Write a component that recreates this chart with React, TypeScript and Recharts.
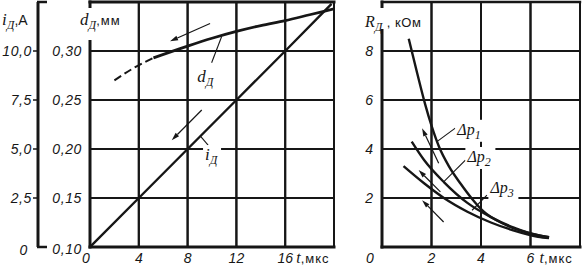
import { ComposedChart, Line, XAxis, YAxis, ReferenceLine, ReferenceDot, CartesianGrid } from 'recharts';

const INK = '#161616';
const SANS = '"Liberation Sans", Arial, sans-serif';
const SERIF = '"Liberation Serif", "Times New Roman", serif';

// left panel: current i_Д (A) and spark diameter d_Д (mm) against t (µs)
const LEFT_T_TICKS = [0, 4, 8, 12, 16, 20];
const I_TICKS = [0, 2.5, 5, 7.5, 10, 12.5];
const D_TICKS = [0.1, 0.15, 0.2, 0.25, 0.3, 0.35];

const I_T = [0, 4, 8, 12, 16, 19.8];
const I_VALUES = [0, 2.5, 5, 7.5, 10, 12.4];

const D_DASH_T = [2.0, 3.5, 5.2];
const D_DASH_VALUES = [0.27, 0.282, 0.293];
const D_T = [5.2, 8, 10, 12, 14, 16, 18, 20];
const D_VALUES = [0.293, 0.305, 0.313, 0.32, 0.326, 0.331, 0.337, 0.343];

// right panel: resistance R_Д (kOhm) against t (µs) for three pressure drops
const RIGHT_T_TICKS = [0, 2, 4, 6, 8];
const R_TICKS = [0, 2, 4, 6, 8, 10];

const P1_T = [1.08, 1.42, 1.75, 2.0, 2.3, 2.7, 3.2, 3.65, 4.1, 5.0, 6.0, 6.75];
const P1_R = [8.5, 7.1, 5.8, 4.95, 4.1, 3.3, 2.55, 1.95, 1.45, 0.9, 0.55, 0.4];
const P2_T = [1.2, 1.7, 2.5, 3.45, 4.4, 5.3, 6.3, 6.75];
const P2_R = [4.3, 3.55, 2.65, 1.8, 1.22, 0.8, 0.48, 0.4];
const P3_T = [0.87, 1.7, 2.5, 3.45, 4.4, 5.3, 6.3, 6.75];
const P3_R = [3.3, 2.6, 2.0, 1.44, 1.0, 0.68, 0.42, 0.36];

// panel geometry
const CHART_H = 271;
const TOP = 2;
const X_AXIS_H = 24;
const PLOT_H = CHART_H - TOP - X_AXIS_H;
const LEFT_W = 340;
const LEFT_AXES_W = 90;
const LEFT_RIGHT_PAD = 6;
const LEFT_PLOT_W = LEFT_W - LEFT_AXES_W - LEFT_RIGHT_PAD;
const RIGHT_X = 340;
const RIGHT_W = 244;
const RIGHT_AXES_W = 42;
const RIGHT_RIGHT_PAD = 4;
const RIGHT_PLOT_W = RIGHT_W - RIGHT_AXES_W - RIGHT_RIGHT_PAD;

const pts = (ts: number[], vs: number[]) => ts.map((t, k) => ({ t, v: vs[k] }));
const comma = (v: number, digits: number) => v.toFixed(digits).replace('.', ',');

function Arrow(p: any) {
  const { x1, y1, x2, y2 } = p;
  const a = Math.atan2(y2 - y1, x2 - x1);
  const len = 8;
  const half = 2.4;
  const bx = x2 - len * Math.cos(a);
  const by = y2 - len * Math.sin(a);
  const nx = -Math.sin(a) * half;
  const ny = Math.cos(a) * half;
  return (
    <g>
      <line x1={x1} y1={y1} x2={bx} y2={by} stroke={INK} strokeWidth={1.2} />
      <polygon points={`${x2},${y2} ${bx + nx},${by + ny} ${bx - nx},${by - ny}`} fill={INK} />
    </g>
  );
}

function Leader(p: any) {
  return <line x1={p.x1} y1={p.y1} x2={p.x2} y2={p.y2} stroke={INK} strokeWidth={1.1} />;
}

const tag = (main: string, sub: string, w: number, size = 17) => (p: any) => (
  <g>
    <rect x={p.cx - 2} y={p.cy - 15} width={w} height={22} fill="#fff" />
    <text x={p.cx} y={p.cy} fontFamily={SERIF} fontStyle="italic" fontSize={size} fill={INK}>
      {main}
      <tspan fontSize={12} dy={4}>{sub}</tspan>
    </text>
  </g>
);

const timeTick = (unitAt: number, zeroShift: number, unitGap: number) => (p: any) => {
  const v = p.payload.value;
  if (v > unitAt) return <g />;
  const y = p.y + 16;
  return (
    <g>
      <text x={p.x + (v === 0 ? zeroShift : 0)} y={y} textAnchor="middle" fontFamily={SANS} fontStyle="italic" fontSize={14} fill={INK}>
        {v}
      </text>
      {v === unitAt && (
        <text x={p.x + unitGap} y={y} fontFamily={SERIF} fontStyle="italic" fontSize={16} fill={INK}>
          t
          <tspan fontFamily={SANS} fontStyle="normal" fontSize={13} letterSpacing={1}>,мкс</tspan>
        </text>
      )}
    </g>
  );
};

function CurrentTick(p: any) {
  const v = p.payload.value;
  if (v > 12) return <g />;
  return (
    <text x={p.x - (v === 0 ? 10 : 6)} y={p.y + (v === 0 ? 3 : 0)} textAnchor="end" dominantBaseline="central" fontFamily={SANS} fontStyle="italic" fontSize={14} letterSpacing={0.6} fill={INK}>
      {v === 0 ? '0' : comma(v, 1)}
    </text>
  );
}

function DiameterTick(p: any) {
  const v = p.payload.value;
  if (v > 0.321) return <g />;
  return (
    <text x={p.x - 8} y={p.y + (v < 0.11 ? 2 : 0)} textAnchor="end" dominantBaseline="central" fontFamily={SANS} fontStyle="italic" fontSize={14} letterSpacing={0.6} fill={INK}>
      {comma(v, 2)}
    </text>
  );
}

function ResistanceTick(p: any) {
  const v = p.payload.value;
  if (v === 0 || v > 8) return <g />;
  return (
    <text x={p.x - 9} y={p.y} textAnchor="end" dominantBaseline="central" fontFamily={SANS} fontStyle="italic" fontSize={14} fill={INK}>
      {v}
    </text>
  );
}

// ruled paper behind both panels: grid rules at the tick values, heavier frame sides
function GridBackdrop() {
  const lines: any[] = [];
  const panel = (x0: number, w: number, xTicks: number[], yTicks: number[], heavyTop: number, iAxisX: number | null) => {
    const xMax = xTicks[xTicks.length - 1];
    const yMin = yTicks[0];
    const yMax = yTicks[yTicks.length - 1];
    const px = (t: number) => x0 + (t / xMax) * w;
    const py = (v: number) => TOP + (1 - (v - yMin) / (yMax - yMin)) * PLOT_H;
    xTicks.forEach((t, k) => {
      lines.push(<line key={`v${x0}-${k}`} x1={px(t)} x2={px(t)} y1={py(yMin)} y2={py(yMax)} stroke={INK} strokeWidth={k === 0 ? 3 : 2} strokeLinecap="square" />);
    });
    yTicks.forEach((v, k) => {
      const wgt = k === 0 ? 3 : k === yTicks.length - 1 ? heavyTop : 2;
      lines.push(<line key={`h${x0}-${k}`} x1={px(0)} x2={px(xMax)} y1={py(v)} y2={py(v)} stroke={INK} strokeWidth={wgt} strokeLinecap="square" />);
    });
    if (iAxisX !== null) {
      // outer current scale: ticks to the left, feet at both ends
      yTicks.forEach((v, k) => {
        const y = py(v);
        if (k === 0 || k === yTicks.length - 1) {
          lines.push(<line key={`f${k}`} x1={iAxisX - 1} x2={iAxisX + 9} y1={y} y2={y} stroke={INK} strokeWidth={2.5} />);
        } else {
          lines.push(<line key={`t${k}`} x1={iAxisX - 5} x2={iAxisX} y1={y} y2={y} stroke={INK} strokeWidth={1.5} />);
        }
      });
    }
  };
  panel(LEFT_AXES_W, LEFT_PLOT_W, LEFT_T_TICKS, I_TICKS, 3, LEFT_AXES_W - 52);
  panel(RIGHT_X + RIGHT_AXES_W, RIGHT_PLOT_W, RIGHT_T_TICKS, R_TICKS, 2.4, null);
  return (
    <svg width={584} height={271} style={{ position: 'absolute', left: 0, top: 0 }}>
      {lines}
    </svg>
  );
}

function LeftPanel() {
  return (
    <ComposedChart width={LEFT_W} height={CHART_H} margin={{ top: TOP, right: LEFT_RIGHT_PAD, bottom: 0, left: 0 }}>
      <CartesianGrid stroke={INK} strokeWidth={2} />
      <XAxis dataKey="t" type="number" domain={[0, 20]} ticks={LEFT_T_TICKS} interval={0} allowDataOverflow
        axisLine={false} tickLine={false} tickSize={0} tickMargin={0} height={X_AXIS_H} tick={timeTick(16, -4, 11)} />
      <YAxis type="number" domain={[0.1, 0.35]} ticks={D_TICKS} interval={0} allowDataOverflow width={52}
        axisLine={false} tickLine={false} tickSize={0} tickMargin={0} tick={DiameterTick} />
      <YAxis yAxisId="i" type="number" domain={[0, 12.5]} ticks={I_TICKS} interval={0} allowDataOverflow width={38}
        axisLine={{ stroke: INK, strokeWidth: 3 }} tickLine={false} tickSize={0} tickMargin={0} tick={CurrentTick} />
      <Line data={pts(I_T, I_VALUES)} dataKey="v" yAxisId="i" type="linear" dot={false} stroke={INK} strokeWidth={2.4} isAnimationActive={false} />
      <Line data={pts(D_DASH_T, D_DASH_VALUES)} dataKey="v" type="monotone" dot={false} stroke={INK} strokeWidth={2} strokeDasharray="8 4" isAnimationActive={false} />
      <Line data={pts(D_T, D_VALUES)} dataKey="v" type="monotone" dot={false} stroke={INK} strokeWidth={2.8} isAnimationActive={false} />
      <ReferenceLine segment={[{ x: 9.84, y: 0.328 }, { x: 6.56, y: 0.31 }]} shape={Arrow} />
      <ReferenceLine segment={[{ x: 10.8, y: 0.315 }, { x: 9.97, y: 0.288 }]} shape={Leader} />
      <ReferenceLine yAxisId="i" segment={[{ x: 9.16, y: 6.99 }, { x: 6.7, y: 5.45 }]} shape={Arrow} />
      <ReferenceLine yAxisId="i" segment={[{ x: 9.05, y: 5.66 }, { x: 9.68, y: 5.2 }]} shape={Leader} />
      <ReferenceDot x={8.8} y={0.268} shape={tag('d', 'Д', 22)} />
      <ReferenceDot yAxisId="i" x={9.43} y={4.43} shape={tag('i', 'Д', 18)} />
    </ComposedChart>
  );
}

function RightPanel() {
  return (
    <ComposedChart width={RIGHT_W} height={CHART_H} margin={{ top: TOP, right: RIGHT_RIGHT_PAD, bottom: 0, left: 0 }}>
      <CartesianGrid stroke={INK} strokeWidth={2} />
      <XAxis dataKey="t" type="number" domain={[0, 8]} ticks={RIGHT_T_TICKS} interval={0} allowDataOverflow
        axisLine={false} tickLine={false} tickSize={0} tickMargin={0} height={X_AXIS_H} tick={timeTick(6, -12, 9)} />
      <YAxis type="number" domain={[0, 10]} ticks={R_TICKS} interval={0} allowDataOverflow width={RIGHT_AXES_W}
        axisLine={false} tickLine={false} tickSize={0} tickMargin={0} tick={ResistanceTick} />
      <Line data={pts(P1_T, P1_R)} dataKey="v" type="monotone" dot={false} stroke={INK} strokeWidth={2.4} isAnimationActive={false} />
      <Line data={pts(P2_T, P2_R)} dataKey="v" type="monotone" dot={false} stroke={INK} strokeWidth={2.4} isAnimationActive={false} />
      <Line data={pts(P3_T, P3_R)} dataKey="v" type="monotone" dot={false} stroke={INK} strokeWidth={2.4} isAnimationActive={false} />
      <ReferenceLine segment={[{ x: 2.29, y: 3.42 }, { x: 1.62, y: 4.85 }]} shape={Arrow} />
      <ReferenceLine segment={[{ x: 2.36, y: 2.25 }, { x: 1.48, y: 3.14 }]} shape={Arrow} />
      <ReferenceLine segment={[{ x: 2.49, y: 1.02 }, { x: 1.62, y: 1.91 }]} shape={Arrow} />
      <ReferenceLine segment={[{ x: 2.22, y: 4.3 }, { x: 2.96, y: 4.85 }]} shape={Leader} />
      <ReferenceLine segment={[{ x: 2.49, y: 2.66 }, { x: 3.37, y: 3.55 }]} shape={Leader} />
      <ReferenceLine segment={[{ x: 3.64, y: 1.5 }, { x: 4.24, y: 2.12 }]} shape={Leader} />
      <ReferenceDot x={3.04} y={4.58} shape={tag('Δp', '1', 28, 16)} />
      <ReferenceDot x={3.45} y={3.47} shape={tag('Δp', '2', 30, 16)} />
      <ReferenceDot x={4.38} y={2.2} shape={tag('Δp', '3', 30, 16)} />
    </ComposedChart>
  );
}

function AxisTitles() {
  return (
    <svg width={584} height={271} style={{ position: 'absolute', left: 0, top: 0, pointerEvents: 'none' }}>
      <text x={2} y={25} fontFamily={SERIF} fontStyle="italic" fontSize={17} fill={INK}>
        i<tspan fontSize={12} dy={4}>Д</tspan>
        <tspan dy={-4} fontFamily={SANS} fontStyle="normal" fontSize={14}>,A</tspan>
      </text>
      <rect x={79} y={8} width={52} height={32} fill="#fff" />
      <text x={80} y={25} fontFamily={SERIF} fontStyle="italic" fontSize={17} fill={INK}>
        d<tspan fontSize={12} dy={4}>Д</tspan>
        <tspan dy={-4} fontFamily={SANS} fontStyle="normal" fontSize={13} letterSpacing={1}>,мм</tspan>
      </text>
      <rect x={363} y={8} width={60} height={21} fill="#fff" />
      <text x={365} y={27} fontFamily={SERIF} fontStyle="italic" fontSize={16} fill={INK}>
        R<tspan fontSize={12} dy={4}>Д</tspan>
        <tspan dy={-4} fontFamily={SANS} fontStyle="normal" fontSize={13} letterSpacing={0.6}> , кОм</tspan>
      </text>
    </svg>
  );
}

export default function App() {
  return (
    <div style={{ position: 'fixed', left: 0, top: 0, width: 584, height: 271, background: '#fff' }}>
      <GridBackdrop />
      <div style={{ position: 'absolute', left: 0, top: 0 }}>
        <LeftPanel />
      </div>
      <div style={{ position: 'absolute', left: RIGHT_X, top: 0 }}>
        <RightPanel />
      </div>
      <AxisTitles />
    </div>
  );
}
